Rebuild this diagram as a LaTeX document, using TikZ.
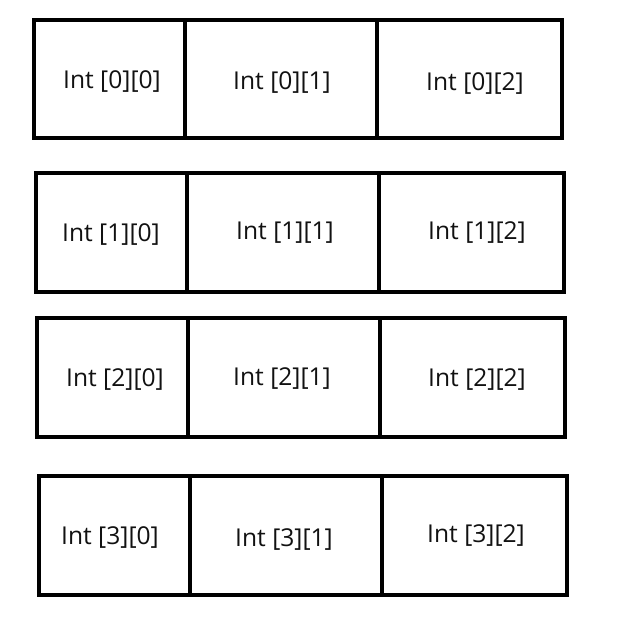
\documentclass[tikz,border=0pt]{standalone}
\usepackage{fontspec}
\setmainfont{Open Sans}
\definecolor{cellline}{HTML}{000000}
\definecolor{celltext}{HTML}{111111}

\begin{document}
\begin{tikzpicture}[x=0.03cm,y=-0.03cm,
    cellbox/.style={draw=cellline,line width=4pt,line join=miter},
    lbl/.style={celltext,font=\fontsize{21}{25}\selectfont,inner sep=0pt,yshift=-2.5pt}]

  \useasboundingbox[fill=white] (0,0) rectangle (618,628);

  % ===== ROW 0 =====
  \draw[cellbox] (34,20) rectangle (562,138);
  \draw[cellbox] (185,20) -- (185,138) (377,20) -- (377,138);
  \node[lbl] (c00) at (112,79) {Int [0][0]};
  \node[lbl] (c01) at (282,80) {Int [0][1]};
  \node[lbl] (c02) at (475,81) {Int [0][2]};

  % ===== ROW 1 =====
  \draw[cellbox] (36,173) rectangle (564,292);
  \draw[cellbox] (187,173) -- (187,292) (379,173) -- (379,292);
  \node[lbl] (c10) at (111,232) {Int [1][0]};
  \node[lbl] (c11) at (285,230) {Int [1][1]};
  \node[lbl] (c12) at (477,230) {Int [1][2]};

  % ===== ROW 2 =====
  \draw[cellbox] (37,318) rectangle (565,437);
  \draw[cellbox] (188,318) -- (188,437) (380,318) -- (380,437);
  \node[lbl] (c20) at (115,377) {Int [2][0]};
  \node[lbl] (c21) at (282,376) {Int [2][1]};
  \node[lbl] (c22) at (477,377) {Int [2][2]};

  % ===== ROW 3 =====
  \draw[cellbox] (39,476) rectangle (567,595);
  \draw[cellbox] (190,476) -- (190,595) (382,476) -- (382,595);
  \node[lbl] (c30) at (110,535) {Int [3][0]};
  \node[lbl] (c31) at (284,537) {Int [3][1]};
  \node[lbl] (c32) at (476,533) {Int [3][2]};

\end{tikzpicture}
\end{document}
